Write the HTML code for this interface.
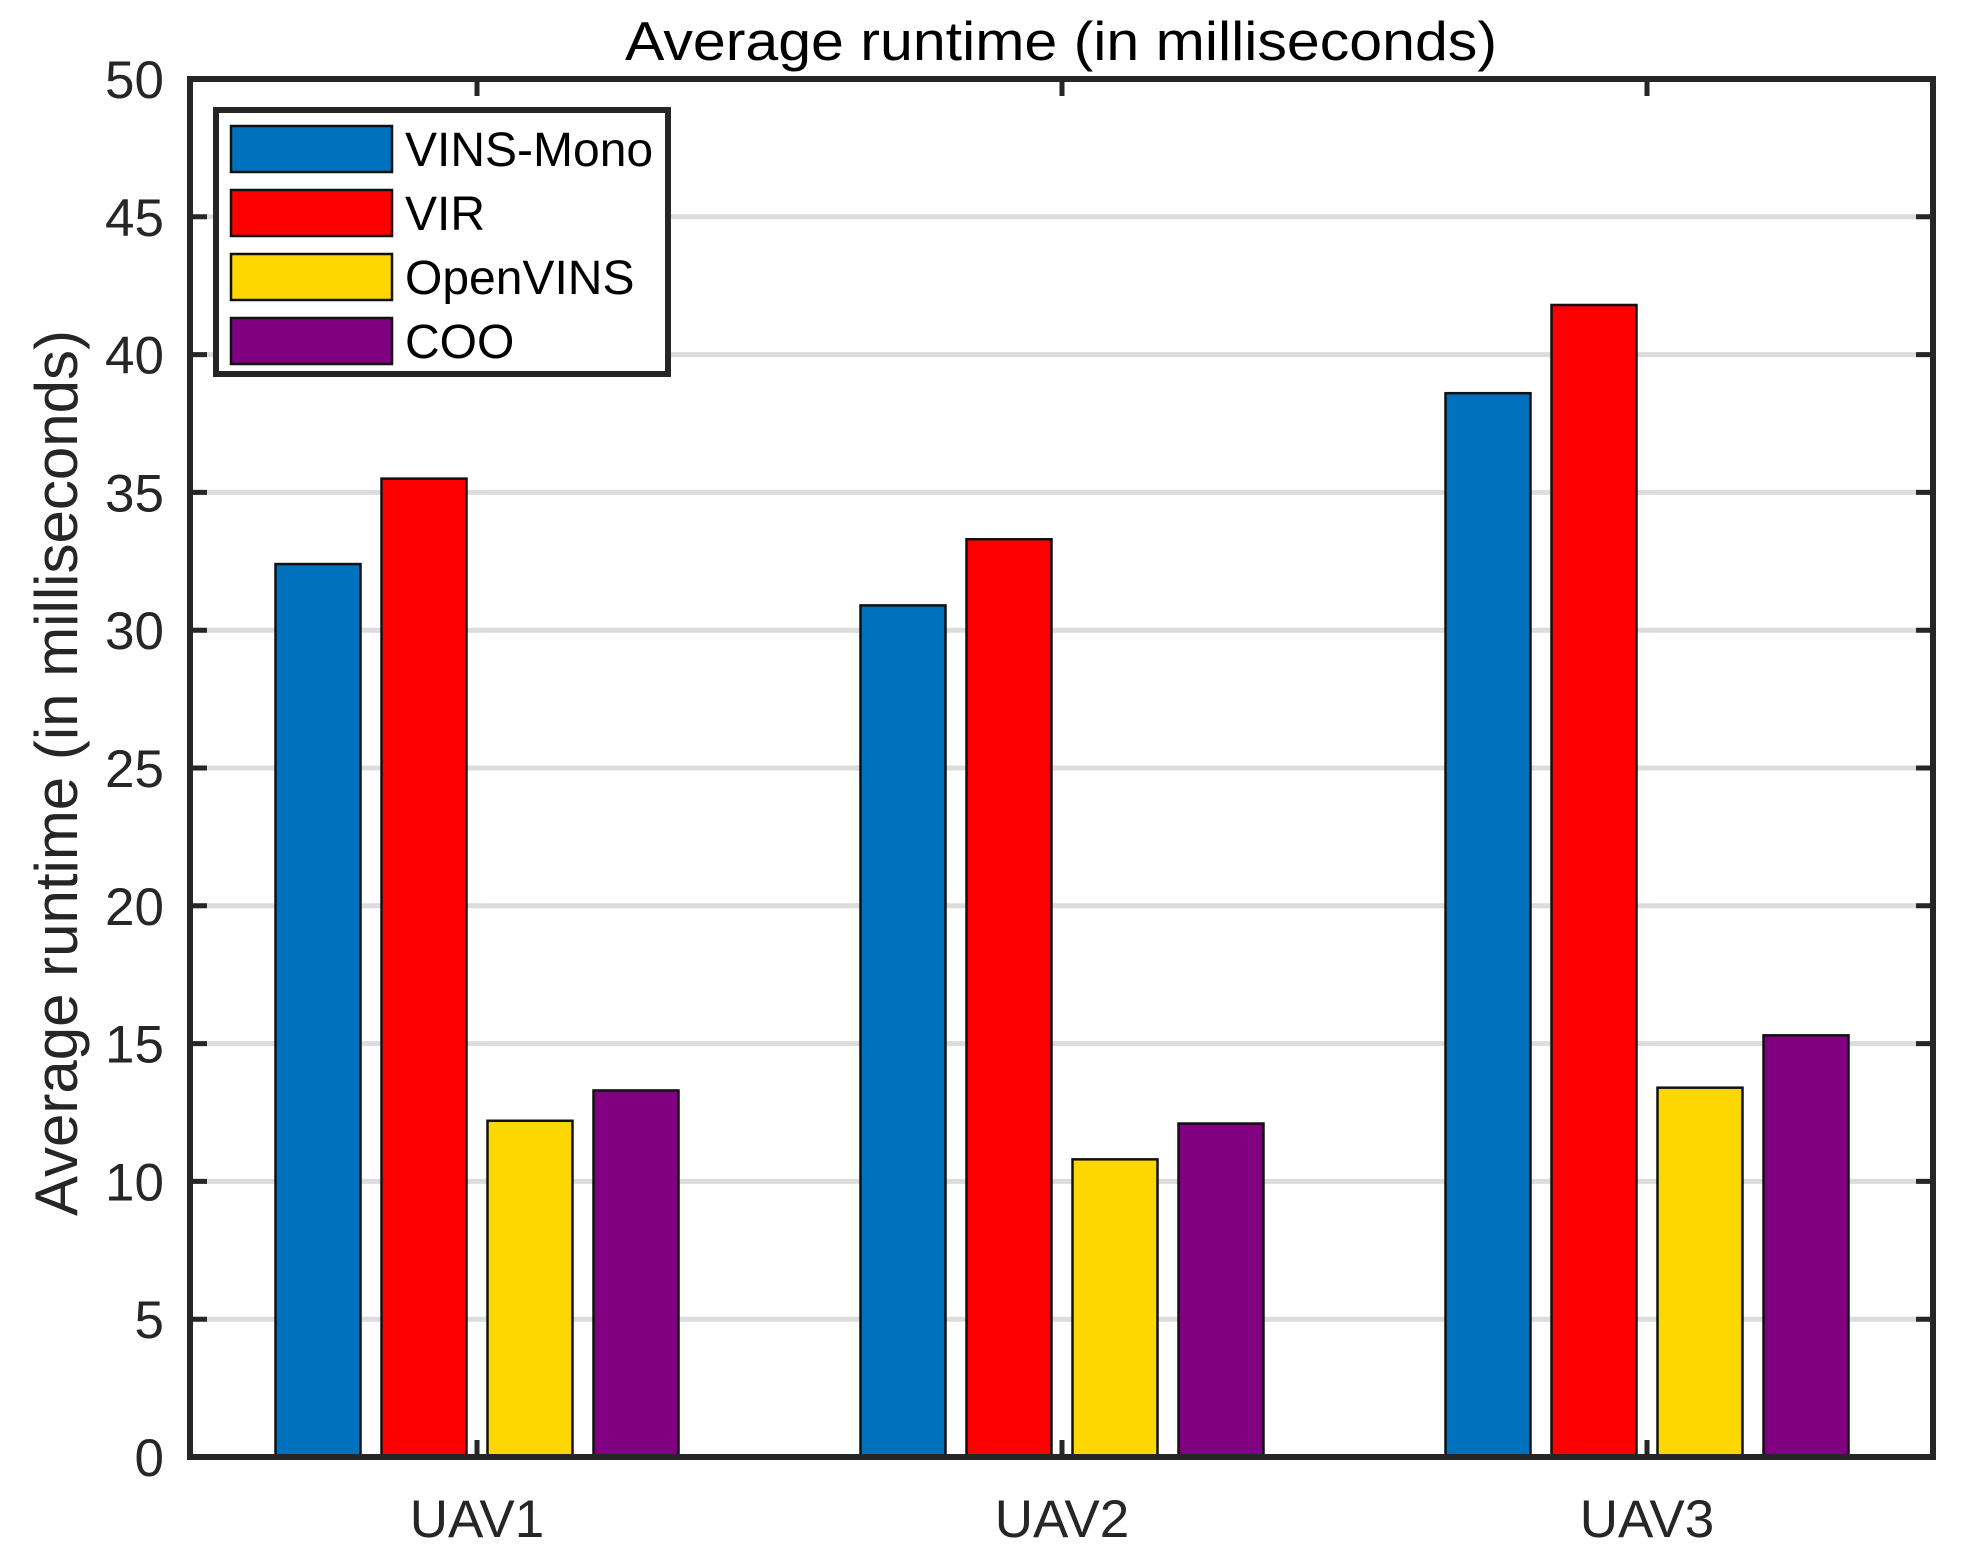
<!DOCTYPE html>
<html><head><meta charset="utf-8"><style>
html,body{margin:0;padding:0;background:#fff;}
svg{display:block;font-family:"Liberation Sans",Arial,sans-serif;}
</style></head><body>
<svg id="chart" width="1971" height="1555" viewBox="0 0 1971 1555">
<rect width="1971" height="1555" fill="#fff"/>
<g id="grid"></g>
<g id="bars"></g>
<g id="axes"></g>
<text x="1061" y="60" font-size="55" text-anchor="middle" fill="#000" textLength="872" lengthAdjust="spacingAndGlyphs">Average runtime (in milliseconds)</text>
<text transform="translate(77,773) rotate(-90)" font-size="60" text-anchor="middle" fill="#262626">Average runtime (in milliseconds)</text>
<g id="legend"></g>
</svg>
<script>
const categories = ["UAV1","UAV2","UAV3"];
const seriesNames = ["VINS-Mono","VIR","OpenVINS","COO"];
const seriesColors = ["#0072BD","#FF0000","#FFD700","#800080"];
const vinsMono = [32.4, 30.9, 38.6];
const vir = [35.5, 33.3, 41.8];
const openVins = [12.2, 10.8, 13.4];
const coo = [13.3, 12.1, 15.3];
const yTicks = [0,5,10,15,20,25,30,35,40,45,50];

const series = [vinsMono, vir, openVins, coo];
const NS = "http://www.w3.org/2000/svg";
const L = 190, R = 1933, T = 79, B = 1457, yMax = 50;
const catCenters = [477, 1062, 1647];
function y(v){ return B - (v / yMax) * (B - T); }
function xCat(i){ return catCenters[0] + i * (catCenters[2] - catCenters[0]) / (categories.length - 1); }
function mk(tag, attrs, parent){ const e = document.createElementNS(NS, tag); for (const k in attrs) e.setAttribute(k, attrs[k]); parent.appendChild(e); return e; }

const grid = document.getElementById('grid');
const axes = document.getElementById('axes');
const bars = document.getElementById('bars');
const legend = document.getElementById('legend');

yTicks.forEach(t => {
  if (t > 0 && t < yMax) {
    const g = mk('line', {x1: L, x2: R, y1: y(t), y2: y(t), stroke: '#dcdcdc', 'stroke-width': 5}, grid);
    
    
  }
  const tk1 = mk('line', {x1: L, x2: L + 17, y1: y(t), y2: y(t), stroke: '#262626', 'stroke-width': 5}, axes);
  
  
  const tk2 = mk('line', {x1: R, x2: R - 17, y1: y(t), y2: y(t), stroke: '#262626', 'stroke-width': 5}, axes);
  
  
  const lb = mk('text', {x: 164, y: y(t) + 19, 'font-size': 53, 'text-anchor': 'end', fill: '#262626'}, axes);
  lb.textContent = t;
  
  
});

const barW = 85, pitch = 106;
categories.forEach((c, i) => {
  const cx = xCat(i);
  series.forEach((s, j) => {
    const x0 = cx + (j - 1.5) * pitch - barW / 2;
    const r = mk('rect', {x: x0, y: y(s[i]), width: barW, height: B - y(s[i]), fill: seriesColors[j], stroke: '#111', 'stroke-width': 2.5}, bars);
    
    
  });
  const t1 = mk('line', {x1: cx, x2: cx, y1: B, y2: B - 17, stroke: '#262626', 'stroke-width': 5}, axes);
  
  
  const t2 = mk('line', {x1: cx, x2: cx, y1: T, y2: T + 17, stroke: '#262626', 'stroke-width': 5}, axes);
  
  
  const lb = mk('text', {x: cx, y: 1537, 'font-size': 53, 'text-anchor': 'middle', fill: '#262626'}, axes);
  lb.textContent = c;
  
  
});

const frame = mk('rect', {x: L, y: T, width: R - L, height: B - T, fill: 'none', stroke: '#262626', 'stroke-width': 6}, axes);



const lbox = mk('rect', {x: 216, y: 110, width: 452, height: 264, fill: '#fff', stroke: '#262626', 'stroke-width': 6}, legend);


seriesNames.forEach((n, j) => {
  const ry = 126 + j * 64;
  const sw = mk('rect', {x: 231, y: ry, width: 161, height: 46, fill: seriesColors[j], stroke: '#111', 'stroke-width': 2.5}, legend);
  
  
  const tx = mk('text', {x: 405, y: ry + 40, 'font-size': 48, fill: '#000'}, legend);
  tx.textContent = n;
  
  
});
</script>
</body></html>
